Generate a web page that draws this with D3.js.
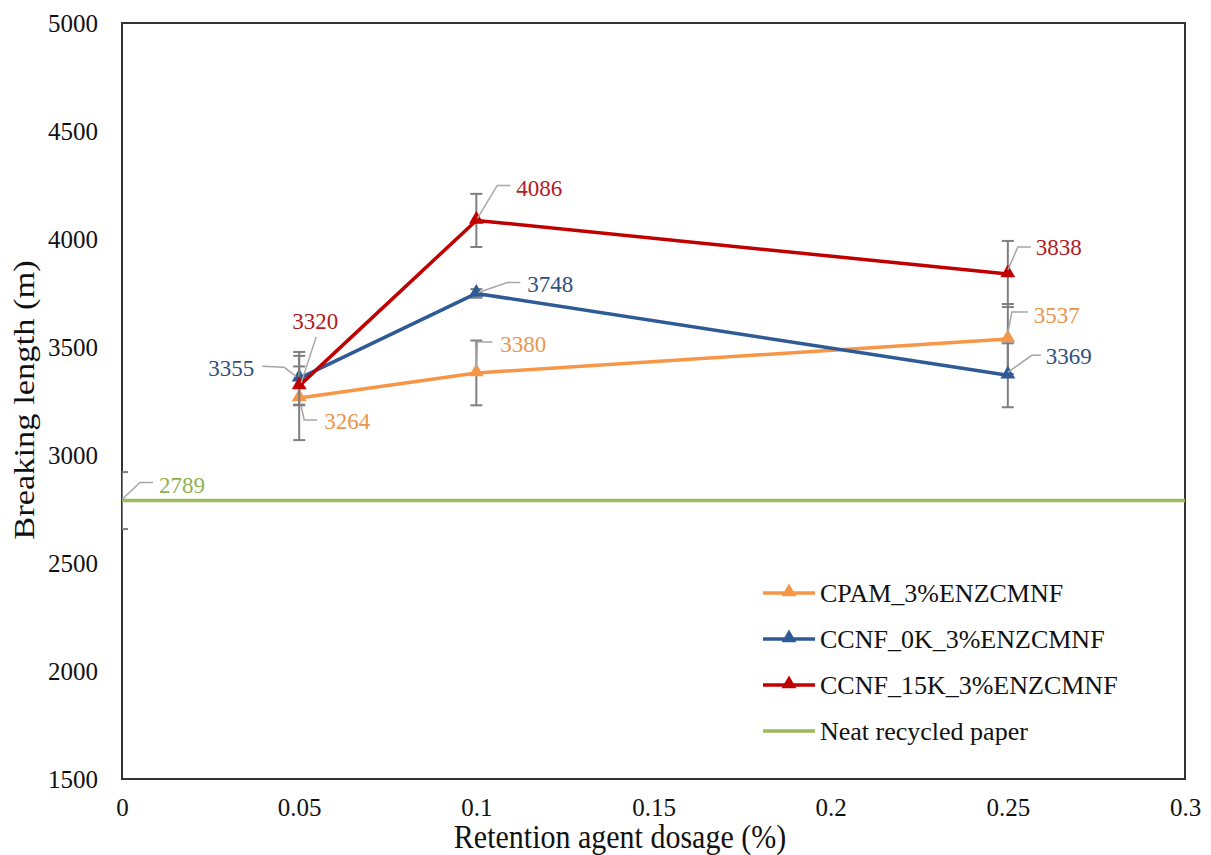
<!DOCTYPE html>
<html>
<head>
<meta charset="utf-8">
<script src="https://cdn.jsdelivr.net/npm/d3@7"></script>
<style>
  html, body { margin: 0; padding: 0; background: #fff; }
  svg { display: block; font-family: "Liberation Serif", "Times New Roman", serif; }
</style>
</head>
<body>
<svg id="chart" width="1211" height="855"></svg>
<script>
// ---------------- data ----------------
const dosages = [0.05, 0.1, 0.25];
const seriesNames = ["CPAM_3%ENZCMNF", "CCNF_0K_3%ENZCMNF", "CCNF_15K_3%ENZCMNF"];
const cpamValues = [3264, 3380, 3537];
const ccnf0kValues = [3355, 3748, 3369];
const ccnf15kValues = [3320, 4086, 3838];
const cpamErrors = [195, 150, 162];
const ccnf0kErrors = [122, 20, 148];
const ccnf15kErrors = [90, 123, 153];
const neatName = "Neat recycled paper";
const neatValue = 2789;
const neatError = 132;
const xTicks = [0, 0.05, 0.1, 0.15, 0.2, 0.25, 0.3];
const xTickLabels = ["0", "0.05", "0.1", "0.15", "0.2", "0.25", "0.3"];
const yTicks = [1500, 2000, 2500, 3000, 3500, 4000, 4500, 5000];
const xTitle = "Retention agent dosage (%)";
const yTitle = "Breaking length (m)";

// ---------------- style / layout ----------------
const colors = ["#F79646", "#2E5A96", "#C00000"];
const labelColors = ["#E8964C", "#2F5080", "#B01A1E"];
const neatColor = "#9BBB59";
const neatLabelColor = "#8FB050";
// label placement (pixel offsets relative to point): text offset + leader polyline
const labelLayout = [
  [ {dx: 25, dy: 24, anchor: "start", lead: [[2,8],[5,22],[18,22]]},
    {dx: 24, dy: -28, anchor: "start", lead: [[0,-5],[1,-31],[16,-31]]},
    {dx: 26, dy: -24, anchor: "start", lead: [[0,-6],[4,-27],[20,-27]]} ],
  [ {dx: -45, dy: -10, anchor: "end", lead: [[-37,-12],[-15,-11],[-3,-2]]},
    {dx: 51, dy: -9, anchor: "start", lead: [[2,-1],[31,-11],[44,-11]]},
    {dx: 38, dy: -19, anchor: "start", lead: [[0,-3],[24,-20],[33,-20]]} ],
  [ {dx: 16, dy: -64, anchor: "middle", lead: [[17,-49],[2,-3]]},
    {dx: 40, dy: -32, anchor: "start", lead: [[1,-2],[21,-35],[34,-35]]},
    {dx: 28, dy: -26, anchor: "start", lead: [[0,-4],[10,-27],[23,-27]]} ]
];
const neatLayout = {dx: 37, dy: -15, anchor: "start", lead: [[0,-1],[18,-18],[31,-18]]};

const W = 1211, H = 855;
const margin = {left: 122, right: 26, top: 23, bottom: 76};
const iw = W - margin.left - margin.right;
const ih = H - margin.top - margin.bottom;

const svg = d3.select("#chart");
const x = d3.scaleLinear().domain([0, 0.3]).range([margin.left, margin.left + iw]);
const y = d3.scaleLinear().domain([1500, 5000]).range([margin.top + ih, margin.top]);

svg.append("defs").append("clipPath").attr("id", "plotclip")
  .append("rect").attr("x", margin.left).attr("y", margin.top).attr("width", iw).attr("height", ih);

// axes (labels only, no tick marks)
const yAxis = d3.axisLeft(y).tickValues(yTicks).tickSize(0).tickPadding(24).tickFormat(d3.format("d"));
const gy = svg.append("g").attr("transform", `translate(${margin.left},0)`).call(yAxis);
gy.select(".domain").remove();
gy.attr("font-family", null).attr("font-size", null);
gy.selectAll("text").attr("font-size", 25).attr("fill", "#111");

const xAxis = d3.axisBottom(x).tickValues(xTicks).tickSize(0).tickPadding(19)
  .tickFormat((d, i) => xTickLabels[i]);
const gx = svg.append("g").attr("transform", `translate(0,${margin.top + ih})`).call(xAxis);
gx.select(".domain").remove();
gx.attr("font-family", null).attr("font-size", null);
gx.selectAll("text").attr("font-size", 25).attr("fill", "#111");

// plot border
svg.append("rect").attr("x", margin.left).attr("y", margin.top).attr("width", iw).attr("height", ih)
  .attr("fill", "none").attr("stroke", "#333").attr("stroke-width", 2);

const plot = svg.append("g").attr("clip-path", "url(#plotclip)");
const labelsG = svg.append("g");

function errorBar(g, cx, v, e) {
  const capW = 6;
  g.append("line").attr("x1", cx).attr("x2", cx).attr("y1", y(v + e)).attr("y2", y(v - e))
    .attr("stroke", "#7F7F7F").attr("stroke-width", 2);
  [v + e, v - e].forEach(val => {
    g.append("line").attr("x1", cx - capW).attr("x2", cx + capW).attr("y1", y(val)).attr("y2", y(val))
      .attr("stroke", "#7F7F7F").attr("stroke-width", 2);
  });
}
function dataLabel(px, py, text, color, lay) {
  const pts = lay.lead.map(p => [px + p[0], py + p[1]]);
  labelsG.append("path").attr("d", d3.line()(pts)).attr("fill", "none")
    .attr("stroke", "#A6A6A6").attr("stroke-width", 1.5);
  labelsG.append("text").attr("x", px + lay.dx).attr("y", py + lay.dy)
    .attr("text-anchor", lay.anchor).attr("dominant-baseline", "central")
    .attr("font-size", 23).attr("fill", color).text(text);
}
const tri = d3.symbol().type(d3.symbolTriangle).size(95);

// neat recycled paper line
errorBar(plot, x(0), neatValue, neatError);
plot.append("line").attr("x1", x(0)).attr("x2", x(0.3)).attr("y1", y(neatValue)).attr("y2", y(neatValue))
  .attr("stroke", neatColor).attr("stroke-width", 3.5);
dataLabel(x(0), y(neatValue), String(neatValue), neatLabelColor, neatLayout);

const allValues = [cpamValues, ccnf0kValues, ccnf15kValues];
const allErrors = [cpamErrors, ccnf0kErrors, ccnf15kErrors];

allValues.forEach((vals, s) => {
  const g = plot.append("g");
  vals.forEach((v, i) => errorBar(g, x(dosages[i]), v, allErrors[s][i]));
  g.append("path").datum(vals)
    .attr("d", d3.line().x((d, i) => x(dosages[i])).y(d => y(d)))
    .attr("fill", "none").attr("stroke", colors[s]).attr("stroke-width", 3.5).attr("stroke-linejoin", "round");
  vals.forEach((v, i) => {
    g.append("path").attr("d", tri).attr("transform", `translate(${x(dosages[i])},${y(v) - 1})`)
      .attr("fill", colors[s]);
  });
});
allValues.forEach((vals, s) => {
  vals.forEach((v, i) => dataLabel(x(dosages[i]), y(v), String(v), labelColors[s], labelLayout[s][i]));
});

// legend
const legend = svg.append("g");
const legNames = seriesNames.concat([neatName]);
const legColors = colors.concat([neatColor]);
legNames.forEach((name, i) => {
  const ly = 593 + i * 46;
  legend.append("line").attr("x1", 763).attr("x2", 815).attr("y1", ly).attr("y2", ly)
    .attr("stroke", legColors[i]).attr("stroke-width", 3.5);
  if (i < 3) legend.append("path").attr("d", tri).attr("transform", `translate(789,${ly - 1})`).attr("fill", legColors[i]);
  legend.append("text").attr("x", 820).attr("y", ly).attr("dominant-baseline", "central")
    .attr("font-size", 26).attr("fill", "#111").text(name);
});

// axis titles
svg.append("text").attr("transform", `translate(620,848) scale(1,1.12)`)
  .attr("text-anchor", "middle").attr("font-size", 30).attr("fill", "#111").text(xTitle);
svg.append("text").attr("transform", `translate(34,400) scale(1,1.15) rotate(-90)`)
  .attr("text-anchor", "middle").attr("font-size", 30).attr("fill", "#111").text(yTitle);
</script>
</body>
</html>
